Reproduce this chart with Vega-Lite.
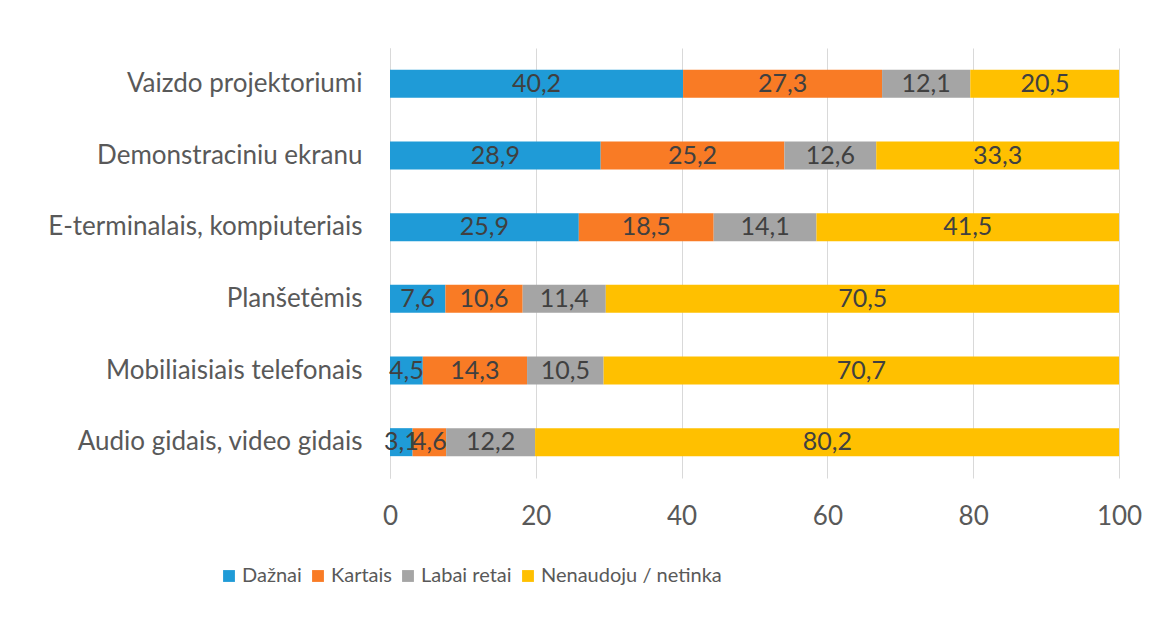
{
  "$schema": "https://vega.github.io/schema/vega-lite/v6.json",
  "autosize": {"type": "none"},
  "width": 729,
  "height": 430,
  "padding": {"left": 390, "top": 48, "right": 51, "bottom": 141},
  "background": "white",
  "config": {
    "view": {"stroke": null},
    "font": "Lato",
    "locale": {"number": {"decimal": ",", "thousands": " ", "grouping": [3], "currency": ["", " €"]}}
  },
  "data": {
    "values": [
      {"item": "Vaizdo projektoriumi", "series": "Dažnai", "k": 1, "value": 40.2},
      {"item": "Vaizdo projektoriumi", "series": "Kartais", "k": 2, "value": 27.3},
      {"item": "Vaizdo projektoriumi", "series": "Labai retai", "k": 3, "value": 12.1},
      {"item": "Vaizdo projektoriumi", "series": "Nenaudoju / netinka", "k": 4, "value": 20.5},
      {"item": "Demonstraciniu ekranu", "series": "Dažnai", "k": 1, "value": 28.9},
      {"item": "Demonstraciniu ekranu", "series": "Kartais", "k": 2, "value": 25.2},
      {"item": "Demonstraciniu ekranu", "series": "Labai retai", "k": 3, "value": 12.6},
      {"item": "Demonstraciniu ekranu", "series": "Nenaudoju / netinka", "k": 4, "value": 33.3},
      {"item": "E-terminalais, kompiuteriais", "series": "Dažnai", "k": 1, "value": 25.9},
      {"item": "E-terminalais, kompiuteriais", "series": "Kartais", "k": 2, "value": 18.5},
      {"item": "E-terminalais, kompiuteriais", "series": "Labai retai", "k": 3, "value": 14.1},
      {"item": "E-terminalais, kompiuteriais", "series": "Nenaudoju / netinka", "k": 4, "value": 41.5},
      {"item": "Planšetėmis", "series": "Dažnai", "k": 1, "value": 7.6},
      {"item": "Planšetėmis", "series": "Kartais", "k": 2, "value": 10.6},
      {"item": "Planšetėmis", "series": "Labai retai", "k": 3, "value": 11.4},
      {"item": "Planšetėmis", "series": "Nenaudoju / netinka", "k": 4, "value": 70.5},
      {"item": "Mobiliaisiais telefonais", "series": "Dažnai", "k": 1, "value": 4.5},
      {"item": "Mobiliaisiais telefonais", "series": "Kartais", "k": 2, "value": 14.3},
      {"item": "Mobiliaisiais telefonais", "series": "Labai retai", "k": 3, "value": 10.5},
      {"item": "Mobiliaisiais telefonais", "series": "Nenaudoju / netinka", "k": 4, "value": 70.7},
      {"item": "Audio gidais, video gidais", "series": "Dažnai", "k": 1, "value": 3.1},
      {"item": "Audio gidais, video gidais", "series": "Kartais", "k": 2, "value": 4.6},
      {"item": "Audio gidais, video gidais", "series": "Labai retai", "k": 3, "value": 12.2},
      {"item": "Audio gidais, video gidais", "series": "Nenaudoju / netinka", "k": 4, "value": 80.2}
    ]
  },
  "encoding": {
    "y": {
      "field": "item",
      "type": "nominal",
      "sort": null,
      "axis": {
        "title": null,
        "ticks": false,
        "domain": true,
        "domainColor": "#d9d9d9",
        "labelFontSize": 26,
        "labelColor": "#595959",
        "labelPadding": 28,
        "labelLimit": 400
      }
    },
    "x": {
      "field": "value",
      "type": "quantitative",
      "stack": "zero",
      "scale": {"domain": [0, 100], "nice": false},
      "axis": {
        "title": null,
        "values": [0, 20, 40, 60, 80, 100],
        "ticks": false,
        "domain": false,
        "grid": true,
        "gridColor": "#d9d9d9",
        "labelFlush": false,
        "labelFontSize": 26,
        "labelColor": "#595959",
        "labelPadding": 25
      }
    },
    "order": {"field": "k", "type": "quantitative"}
  },
  "layer": [
    {
      "mark": {"type": "bar", "size": 28, "clip": true},
      "encoding": {
        "color": {
          "field": "series",
          "type": "nominal",
          "scale": {
            "domain": ["Dažnai", "Kartais", "Labai retai", "Nenaudoju / netinka"],
            "range": ["#1f9bd7", "#f97b25", "#a5a5a5", "#ffc000"]
          },
          "legend": {
            "title": null,
            "orient": "none",
            "direction": "horizontal",
            "legendX": -171,
            "legendY": 518,
            "symbolType": "square",
            "symbolSize": 140,
            "symbolStrokeWidth": 0,
            "labelFontSize": 20,
            "labelColor": "#595959",
            "labelOffset": 3,
            "labelLimit": 400,
            "columnPadding": 6
          }
        }
      }
    },
    {
      "mark": {"type": "text", "fontSize": 25, "color": "#404040"},
      "encoding": {
        "x": {"field": "value", "type": "quantitative", "stack": "zero", "bandPosition": 0.5},
        "text": {"field": "value", "type": "quantitative", "format": ".1f"}
      }
    }
  ]
}
